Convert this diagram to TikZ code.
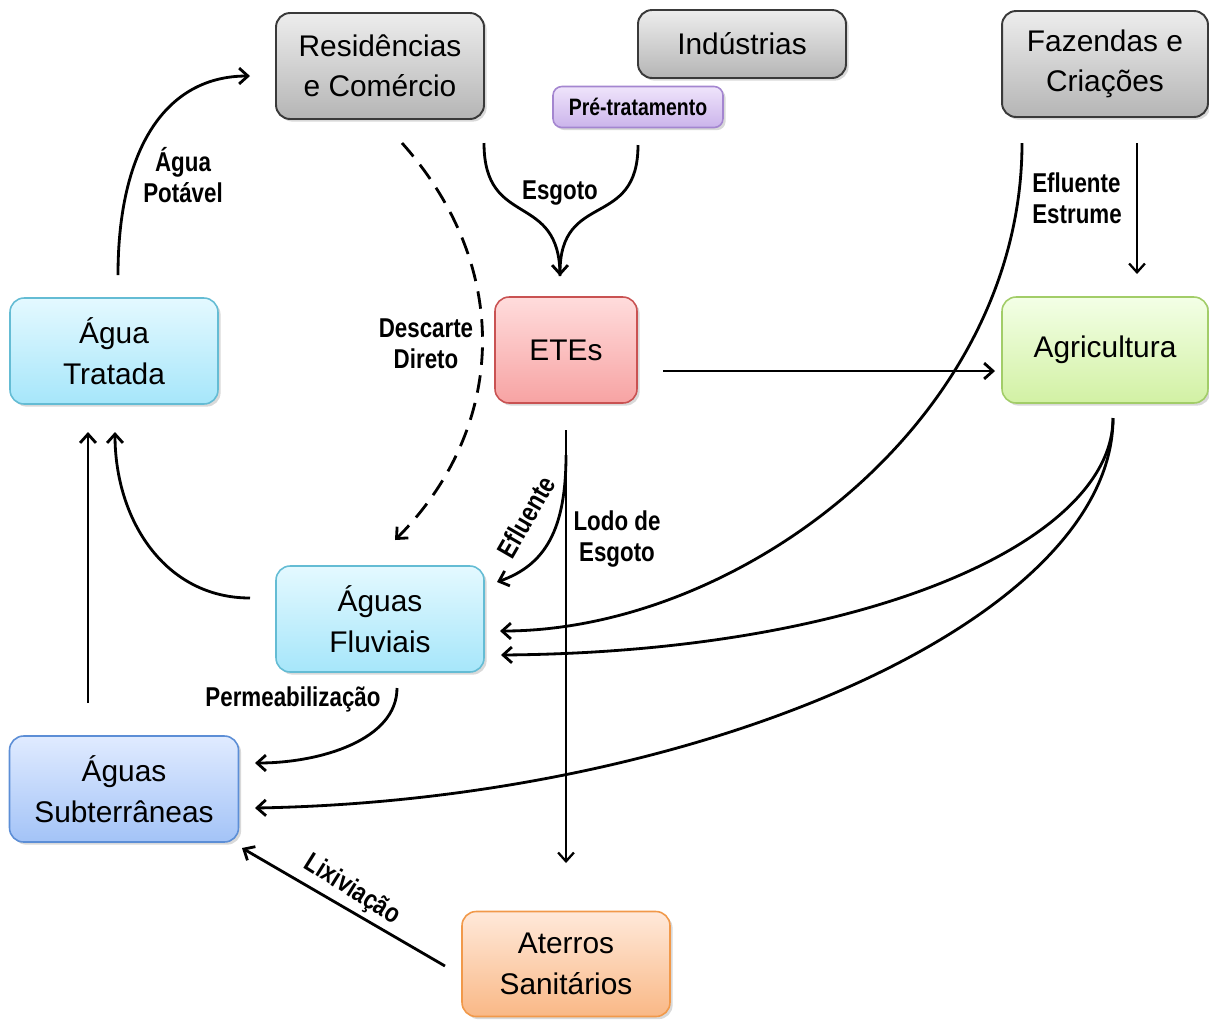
\documentclass[tikz,border=0pt]{standalone}
\usepackage{fontspec}
\setmainfont{Liberation Sans}
\newfontfamily\narrowfont[FakeStretch=0.82]{Liberation Sans}
\usetikzlibrary{positioning}
\usetikzlibrary{arrows.meta}
\usetikzlibrary{shadows}
\definecolor{greytop}{HTML}{EDEDED}
\definecolor{greybot}{HTML}{B5B5B5}
\definecolor{greyline}{HTML}{3A3A3A}
\definecolor{violettop}{HTML}{EFE4FB}
\definecolor{violetbot}{HTML}{CBB4EB}
\definecolor{violetline}{HTML}{A486D0}
\definecolor{cyantop}{HTML}{E4F9FF}
\definecolor{cyanbot}{HTML}{A6E6FA}
\definecolor{cyanline}{HTML}{64BCD4}
\definecolor{bluetop}{HTML}{E0EBFF}
\definecolor{bluebot}{HTML}{A3C3F7}
\definecolor{blueline}{HTML}{5C8ED6}
\definecolor{redtop}{HTML}{FFDCDC}
\definecolor{redbot}{HTML}{F7A3A3}
\definecolor{redline}{HTML}{C95252}
\definecolor{greentop}{HTML}{F3FFE6}
\definecolor{greenbot}{HTML}{D2F1A4}
\definecolor{greenline}{HTML}{A2CD68}
\definecolor{orangetop}{HTML}{FFE9DA}
\definecolor{orangebot}{HTML}{F9B886}
\definecolor{orangeline}{HTML}{F1994A}

\begin{document}
\begin{tikzpicture}[
  x = 0.02cm, y = -0.02cm,
  box/.style = {rounded corners=8pt, line width=0.9pt, align=center,
    minimum width=4.16cm, minimum height=2.12cm,
    font=\fontsize{17}{23}\selectfont,
    drop shadow={opacity=0.3, shadow xshift=1.5pt, shadow yshift=-1.5pt}},
  greybox/.style = {box, draw=greyline, line width=1.1pt, top color=greytop, bottom color=greybot},
  violetbox/.style = {box, draw=violetline, top color=violettop, bottom color=violetbot,
    rounded corners=5pt, minimum width=3.4cm, minimum height=0.82cm,
    font=\narrowfont\bfseries\fontsize{13.5}{16}\selectfont},
  cyanbox/.style = {box, draw=cyanline, top color=cyantop, bottom color=cyanbot},
  bluebox/.style = {box, draw=blueline, top color=bluetop, bottom color=bluebot},
  redbox/.style = {box, draw=redline, top color=redtop, bottom color=redbot},
  greenbox/.style = {box, draw=greenline, top color=greentop, bottom color=greenbot},
  orangebox/.style = {box, draw=orangeline, top color=orangetop, bottom color=orangebot},
  line/.style = {line width=1.6pt},
  thinline/.style = {line width=1.3pt},
  flow/.style = {line, ->},
  tag/.style = {font=\narrowfont\bfseries\fontsize{15.5}{17.6}\selectfont, align=center, inner sep=1pt},
  >={Straight Barb[length=5pt, width=9pt]},
]

  \useasboundingbox (0,0) rectangle (1209,1019);

  \node[greybox] (res) at (380,66) {Residências\\e Comércio};
  \node[greybox, minimum height=1.36cm] (ind) at (742,44) {Indústrias};
  \node[violetbox] (pre) at (638,107) {Pré-tratamento};
  \node[greybox, minimum width=4.12cm] (faz) at (1105,64) {Fazendas e\\Criações};
  \node[cyanbox] (trat) at (114,351) {Água\\Tratada};
  \node[redbox, minimum width=2.84cm] (ete) at (566,350) {ETEs};
  \node[greenbox, minimum width=4.12cm] (agr) at (1105,350) {Agricultura};
  \node[cyanbox] (flu) at (380,619) {Águas\\Fluviais};
  \node[bluebox, minimum width=4.58cm] (sub) at (124,789) {Águas\\Subterrâneas};
  \node[orangebox, minimum height=2.1cm] (ate) at (566,964) {Aterros\\Sanitários};

  \coordinate (t0) at (118,275);
  \coordinate (t1) at (250,76);
  \coordinate (e0) at (484,143);
  \coordinate (e1) at (638,145);
  \coordinate (e2) at (560,276);
  \coordinate (d0) at (402,143);
  \coordinate (d1) at (395,540);
  \coordinate (g0) at (663,371);
  \coordinate (g1) at (995,371);
  \coordinate (l0) at (566,430);
  \coordinate (l1) at (566,863);
  \coordinate (f0) at (566,455);
  \coordinate (f1) at (497,582);
  \coordinate (z0) at (1022,143);
  \coordinate (z1) at (500,631);
  \coordinate (z2) at (1137,143);
  \coordinate (z3) at (1137,274);
  \coordinate (a0) at (1113,418);
  \coordinate (a1) at (501,655);
  \coordinate (a2) at (255,808);
  \coordinate (w0) at (250,598);
  \coordinate (w1) at (115,432);
  \coordinate (s0) at (88,703);
  \coordinate (s1) at (88,432);
  \coordinate (p0) at (397,688);
  \coordinate (p1) at (255,763);
  \coordinate (x0) at (445,966);
  \coordinate (x1) at (242,848);

  \draw[flow] (t0) .. controls (118,150) and (165,76) .. (t1);
  \draw[line] (e0) .. controls (484,230) and (560,190) .. (e2);
  \draw[flow] (e1) .. controls (638,230) and (560,190) .. (e2);
  \draw[flow, dash pattern=on 10pt off 6pt] (d0) .. controls (515,270) and (505,430) .. (d1);
  \draw[flow] (g0) -- (g1);
  \draw[flow, thinline] (l0) -- (l1);
  \draw[flow] (f0) .. controls (566,530) and (545,565) .. (f1);
  \draw[flow] (z0) .. controls (1022,420) and (740,631) .. (z1);
  \draw[flow, thinline] (z2) -- (z3);
  \draw[flow] (a0) .. controls (1113,540) and (870,652) .. (a1);
  \draw[flow] (a0) .. controls (1113,620) and (700,800) .. (a2);
  \draw[flow] (w0) .. controls (165,598) and (115,520) .. (w1);
  \draw[flow] (s0) -- (s1);
  \draw[flow] (p0) .. controls (397,740) and (320,763) .. (p1);
  \draw[flow] (x0) -- (x1);

  \node[tag] (potavel) at (183,175) {Água\\Potável};
  \node[tag] (esgoto) at (560,193) {Esgoto};
  \node[tag] (descarte) at (426,344) {Descarte\\Direto};
  \node[tag, align=left] (estrume) at (1077,198) {Efluente\\Estrume};
  \node[tag] (lodo) at (617,539) {Lodo de\\Esgoto};
  \node[tag, rotate=60] (efluente) at (526,517) {Efluente};
  \node[tag] (perm) at (293,699) {Permeabilização};
  \node[tag, rotate=-32] (lix) at (352,890) {Lixiviação};

\end{tikzpicture}
\end{document}
